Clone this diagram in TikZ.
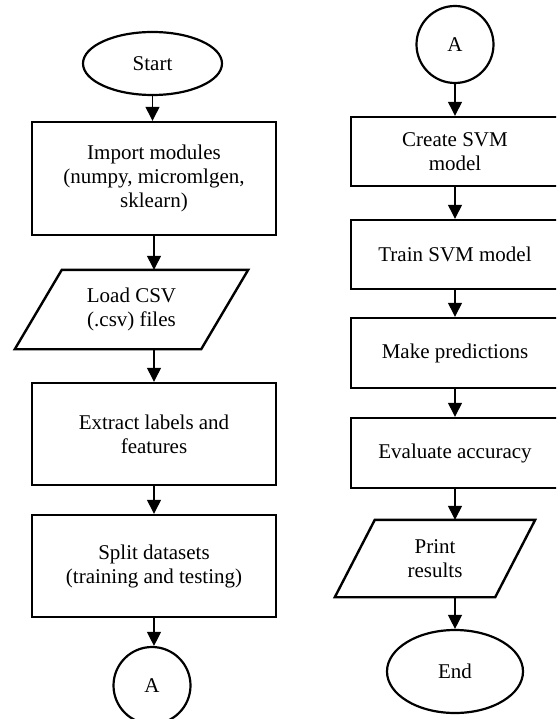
\documentclass[tikz,border=0pt]{standalone}
\usepackage{fontspec}
\setmainfont{Liberation Serif}
\usetikzlibrary{arrows.meta,shapes.geometric,calc}
\begin{document}
\begin{tikzpicture}[x=1pt,y=-1pt,
  every node/.style={font=\fontsize{21}{24}\selectfont, align=center, inner sep=0pt},
  proc/.style={draw, line width=2.4pt, rectangle, minimum width=#1},
  proc/.default=244pt,
  term/.style={draw, line width=2.2pt, ellipse},
  conn/.style={draw, line width=2.2pt, circle, minimum size=77pt},
  ioshape/.style={line width=2.4pt, line join=miter},
  arr/.style={line width=1.3pt, -{Triangle[width=14pt,length=14pt]}}
]
\useasboundingbox (0,0) rectangle (556,719);
\clip (0,0) rectangle (556,719);
\fill[white] (0,0) rectangle (556,719);

% ---------- left column ----------
\node[term, minimum width=139pt, minimum height=63pt] (start) at (152.5,63.5) {Start};
\node[proc, minimum height=113pt] (import) at (154,178.5) {Import modules\\(numpy, micromlgen,\\sklearn)};
\node[minimum width=186pt, minimum height=79pt] (load) at (131.5,309.5) {Load CSV\\(.csv) files};
\draw[ioshape] ($(load.north west)+(23.5,0)$) -- ($(load.north east)+(23.5,0)$)
  -- ($(load.south east)+(-23.5,0)$) -- ($(load.south west)+(-23.5,0)$) -- cycle;
\node[proc, minimum height=102pt] (extract) at (154,434) {Extract labels and\\features};
\node[proc, minimum height=102pt] (split) at (154,566) {Split datasets\\(training and testing)};
\node[conn] (a1) at (152,685.5) {A};

\draw[arr] (start.south) -- (start.south |- import.north);
\draw[arr] (import.south) -- (import.south |- load.north);
\draw[arr] (extract.north |- load.south) -- (extract.north);
\draw[arr] (extract.south) -- (split.north);
\draw[arr] (split.south) -- (split.south |- a1.north);

% ---------- right column ----------
\node[conn] (a2) at (455,44.5) {A};
\node[proc=208pt, minimum height=69pt] (create) at (455,151.5) {Create SVM\\model};
\node[proc=208pt, minimum height=69pt] (train) at (455,254.5) {Train SVM model};
\node[proc=208pt, minimum height=70pt] (predict) at (455,353) {Make predictions};
\node[proc=208pt, minimum height=70pt] (eval) at (455,453) {Evaluate accuracy};
\node[minimum width=160pt, minimum height=77pt] (print) at (435,558.5) {Print\\results};
\draw[ioshape] ($(print.north west)+(20,0)$) -- ($(print.north east)+(20,0)$)
  -- ($(print.south east)+(-20,0)$) -- ($(print.south west)+(-20,0)$) -- cycle;
\node[term, minimum width=136pt, minimum height=83pt] (end) at (455,671.5) {End};

\draw[arr] (a2.south) -- (create.north);
\draw[arr] (create.south) -- (train.north);
\draw[arr] (train.south) -- (predict.north);
\draw[arr] (predict.south) -- (eval.north);
\draw[arr] (eval.south) -- (eval.south |- print.north);
\draw[arr] (end.north |- print.south) -- (end.north);
\end{tikzpicture}
\end{document}
